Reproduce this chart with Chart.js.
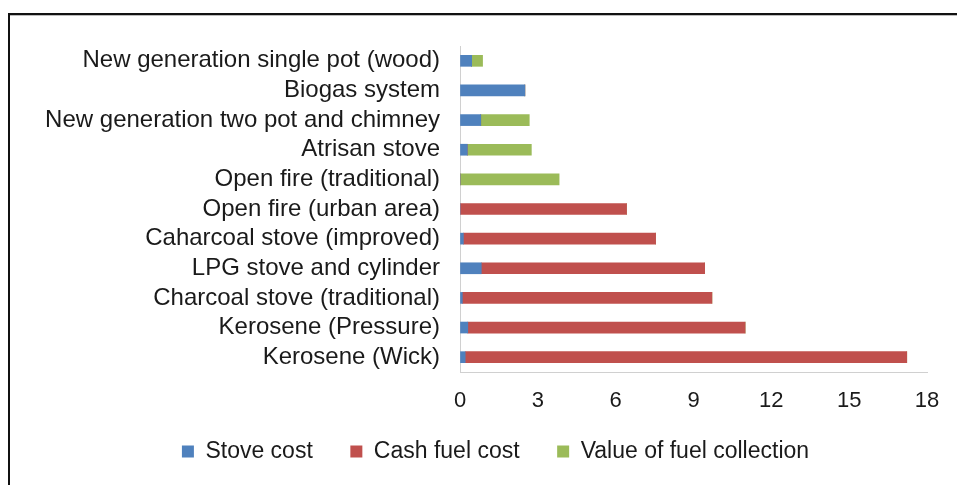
<!DOCTYPE html>
<html>
<head>
<meta charset="utf-8">
<script src="https://cdn.jsdelivr.net/npm/chart.js@4"></script>
<style>
    body { margin: 0; background: #fff; overflow: hidden; }
    #frame {
        position: absolute; left: 8px; top: 13px; width: 1000px; height: 600px;
        border-top: 2px solid #111; border-left: 2px solid #111;
        box-shadow: 0 1px 0 #bbb inset;
    }
    #stoveChart { position: absolute; left: 0; top: 0; }
</style>
</head>
<body>
<div id="frame"></div>
<canvas id="stoveChart" width="957" height="485"></canvas>
<script>
// categories, top to bottom as in the figure
const categories = [
    'New generation single pot (wood)',
    'Biogas system',
    'New generation two pot and chimney',
    'Atrisan stove',
    'Open fire (traditional)',
    'Open fire (urban area)',
    'Caharcoal stove (improved)',
    'LPG stove and cylinder',
    'Charcoal stove (traditional)',
    'Kerosene (Pressure)',
    'Kerosene (Wick)'
];

const stoveCost      = [0.45, 2.5, 0.8, 0.28, 0, 0, 0.13, 0.82, 0.09, 0.3, 0.2];
const cashFuelCost   = [0, 0, 0, 0, 0, 6.42, 7.41, 8.61, 9.62, 10.69, 17.02];
const fuelCollection = [0.42, 0, 1.87, 2.47, 3.82, 0, 0, 0, 0, 0, 0];

const xTicks = [0, 3, 6, 9, 12, 15, 18];

const seriesNames = ['Stove cost', 'Cash fuel cost', 'Value of fuel collection'];

const textColor = '#1a1a1a';
const axisColor = '#d0d0d0';
const padLeft = 30;

// Chart.js has one padding for the legend, so spread items with a few spaces
const legendGap = '    ';

// nudge the legend so it sits where the original one is
const legendShift = {
    id: 'legendShift',
    afterLayout(chart) {
        const dx = (68 - padLeft) / 2 - 2;
        chart.legend.left += dx;
        chart.legend.right += dx;
    }
};

const ctx = document.getElementById('stoveChart').getContext('2d');
const stoveChart = new Chart(ctx, {
    type: 'bar',
    data: {
        labels: categories,
        datasets: [
            { label: seriesNames[0], data: stoveCost, backgroundColor: '#4F81BD' },
            { label: seriesNames[1], data: cashFuelCost, backgroundColor: '#C0504D' },
            { label: seriesNames[2], data: fuelCollection, backgroundColor: '#9BBB59' }
        ]
    },
    options: {
        indexAxis: 'y',
        responsive: false,
        animation: false,
        barThickness: 11,
        layout: {
            padding: { left: padLeft, right: 30, top: 46, bottom: 12 }
        },
        scales: {
            x: {
                stacked: true,
                min: xTicks[0],
                max: xTicks[xTicks.length - 1],
                ticks: {
                    stepSize: xTicks[1] - xTicks[0],
                    color: textColor,
                    padding: 16,
                    font: { family: 'Liberation Sans', size: 22 }
                },
                grid: { drawOnChartArea: false, drawTicks: false },
                border: { display: true, color: axisColor, width: 1 },
                afterFit: (scale) => { scale.height = 56; }
            },
            y: {
                stacked: true,
                ticks: {
                    color: textColor,
                    padding: 20,
                    autoSkip: false,
                    font: { family: 'Liberation Sans', size: 24 }
                },
                grid: { drawOnChartArea: false, drawTicks: false },
                border: { display: true, color: axisColor, width: 1 },
                afterFit: (scale) => { scale.width = 460 - padLeft; }
            }
        },
        plugins: {
            legend: {
                position: 'bottom',
                labels: {
                    color: textColor,
                    boxWidth: 12,
                    boxHeight: 12,
                    padding: 12,
                    font: { family: 'Liberation Sans', size: 23 },
                    generateLabels: (chart) => {
                        const items = Chart.defaults.plugins.legend.labels.generateLabels(chart);
                        items.forEach((item, i) => {
                            if (i < items.length - 1) item.text = item.text + legendGap;
                            item.lineWidth = 0;
                        });
                        return items;
                    }
                }
            },
            tooltip: { enabled: false }
        }
    },
    plugins: [legendShift]
});
</script>
</body>
</html>
